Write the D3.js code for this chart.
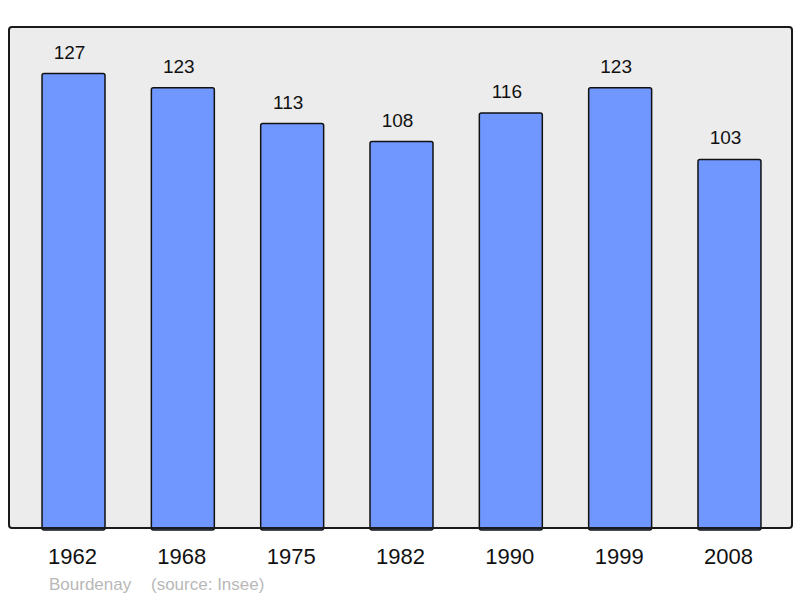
<!DOCTYPE html>
<html>
<head>
<meta charset="utf-8">
<script src="https://cdn.jsdelivr.net/npm/d3@7"></script>
<style>
  body { margin: 0; background: #fff; }
  text { font-family: "Liberation Sans", Arial, sans-serif; }
</style>
</head>
<body>
<svg id="chart"></svg>
<script>
// population data
const years = ['1962', '1968', '1975', '1982', '1990', '1999', '2008'];
const population = [127, 123, 113, 108, 116, 123, 103];
const town = 'Bourdenay';
const source = '(source: Insee)';

const W = 800, H = 598;
const panel = { x0: 9, x1: 792, y0: 27, y1: 528 };

const svg = d3.select('#chart').attr('width', W).attr('height', H);

const x = d3.scaleBand()
  .domain(years)
  .range([panel.x0 + 1, panel.x1 + 1])
  .paddingInner(0.424)
  .paddingOuter(0.293);

const y = d3.scaleLinear()
  .domain([0, 140])
  .range([panel.y1, panel.y0]);

// background panel
svg.append('rect')
  .attr('x', panel.x0).attr('y', panel.y0)
  .attr('width', panel.x1 - panel.x0).attr('height', panel.y1 - panel.y0)
  .attr('rx', 3)
  .attr('fill', '#ececec');

// bars
svg.append('g').selectAll('rect')
  .data(population)
  .enter().append('rect')
  .attr('x', (d, i) => x(years[i]))
  .attr('y', d => y(d))
  .attr('width', x.bandwidth())
  .attr('height', d => y(0) - y(d) + 2)
  .attr('rx', 2)
  .attr('fill', '#7097ff')
  .attr('stroke', '#111')
  .attr('stroke-width', 1.5);

// panel border on top
svg.append('rect')
  .attr('x', panel.x0).attr('y', panel.y0)
  .attr('width', panel.x1 - panel.x0).attr('height', panel.y1 - panel.y0)
  .attr('rx', 3)
  .attr('fill', 'none')
  .attr('stroke', '#1a1a1a')
  .attr('stroke-width', 2);

// value labels
svg.append('g').selectAll('text')
  .data(population)
  .enter().append('text')
  .attr('x', (d, i) => x(years[i]) + x.bandwidth() / 2 - 4)
  .attr('y', d => y(d) - 15)
  .attr('text-anchor', 'middle')
  .attr('font-size', 19)
  .attr('fill', '#111')
  .text(d => d);

// year axis labels
svg.append('g').selectAll('text')
  .data(years)
  .enter().append('text')
  .attr('x', d => x(d) + x.bandwidth() / 2 - 1)
  .attr('y', 564)
  .attr('text-anchor', 'middle')
  .attr('font-size', 22)
  .attr('fill', '#111')
  .text(d => d);

// footer
svg.append('text')
  .attr('x', 49).attr('y', 590)
  .attr('font-size', 17)
  .attr('fill', '#b8b8b8')
  .text(town);
svg.append('text')
  .attr('x', 151).attr('y', 590)
  .attr('font-size', 17)
  .attr('fill', '#b8b8b8')
  .text(source);
</script>
</body>
</html>
